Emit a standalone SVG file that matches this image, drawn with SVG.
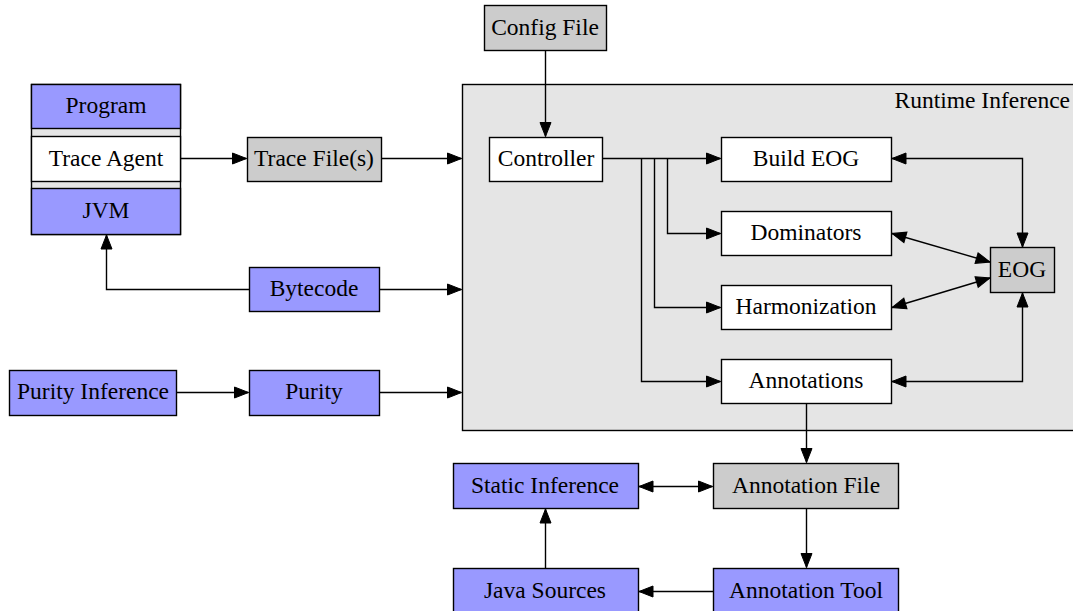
<svg xmlns="http://www.w3.org/2000/svg" width="1073" height="611" viewBox="0 0 1073 611">
<style>
.b{fill:#9999ff;stroke:#000;stroke-width:1.4}
.g{fill:#cccccc;stroke:#000;stroke-width:1.4}
.w{fill:#ffffff;stroke:#000;stroke-width:1.4}
.e{fill:none;stroke:#000;stroke-width:1.4}
</style>
<defs>
<marker id="a" markerUnits="userSpaceOnUse" markerWidth="16" markerHeight="14" refX="15" refY="7" orient="auto-start-reverse" viewBox="0 0 16 14">
<path d="M1,1.5 L15,7 L1,12.5 Z" fill="#000" stroke="#000" stroke-width="1"/>
</marker>
</defs>
<g id="cluster">
<rect x="462.5" y="84.5" width="620" height="346" fill="#e5e5e5" stroke="#000" stroke-width="1.4"/>
<text x="1070" y="108" font-family="Liberation Serif" font-size="23.5" text-anchor="end">Runtime Inference</text>
</g>
<g id="stack">
<rect x="31.5" y="84.5" width="149" height="150" fill="#e5e5e5" stroke="#000" stroke-width="1.4"/>
<g id="program"><rect class="b" x="31.5" y="84.5" width="149" height="44"/><text x="106" y="113" font-family="Liberation Serif" font-size="23.5" text-anchor="middle">Program</text></g>
<g id="traceagent"><rect class="w" x="31.5" y="136.5" width="149" height="45"/><text x="106" y="166" font-family="Liberation Serif" font-size="23.5" text-anchor="middle">Trace Agent</text></g>
<g id="jvm"><rect class="b" x="31.5" y="188.5" width="149" height="46"/><text x="106" y="218" font-family="Liberation Serif" font-size="23.5" text-anchor="middle">JVM</text></g>
</g>
<g id="tracefile"><rect class="g" x="247.5" y="137.5" width="134" height="44"/><text x="314" y="166" font-family="Liberation Serif" font-size="23.5" text-anchor="middle">Trace File(s)</text></g>
<g id="configfile"><rect class="g" x="484.5" y="5.5" width="122" height="45"/><text x="545" y="35" font-family="Liberation Serif" font-size="23.5" text-anchor="middle">Config File</text></g>
<g id="controller"><rect class="w" x="489.5" y="137.5" width="113" height="44"/><text x="546" y="166" font-family="Liberation Serif" font-size="23.5" text-anchor="middle">Controller</text></g>
<g id="buildeog"><rect class="w" x="721.5" y="137.5" width="170" height="44"/><text x="806" y="166" font-family="Liberation Serif" font-size="23.5" text-anchor="middle">Build EOG</text></g>
<g id="dominators"><rect class="w" x="721.5" y="211.5" width="170" height="44"/><text x="806" y="240" font-family="Liberation Serif" font-size="23.5" text-anchor="middle">Dominators</text></g>
<g id="harmonization"><rect class="w" x="721.5" y="285.5" width="170" height="44"/><text x="806" y="314" font-family="Liberation Serif" font-size="23.5" text-anchor="middle">Harmonization</text></g>
<g id="annotations"><rect class="w" x="721.5" y="359.5" width="170" height="44"/><text x="806" y="388" font-family="Liberation Serif" font-size="23.5" text-anchor="middle">Annotations</text></g>
<g id="eog"><rect class="g" x="990.5" y="247.5" width="64" height="45"/><text x="1022" y="277" font-family="Liberation Serif" font-size="23.5" text-anchor="middle">EOG</text></g>
<g id="bytecode"><rect class="b" x="249.5" y="267.5" width="130" height="44"/><text x="314" y="296" font-family="Liberation Serif" font-size="23.5" text-anchor="middle">Bytecode</text></g>
<g id="purityinference"><rect class="b" x="9.5" y="370.5" width="167" height="45"/><text x="93" y="399" font-family="Liberation Serif" font-size="23.5" text-anchor="middle">Purity Inference</text></g>
<g id="purity"><rect class="b" x="249.5" y="370.5" width="130" height="45"/><text x="314" y="399" font-family="Liberation Serif" font-size="23.5" text-anchor="middle">Purity</text></g>
<g id="annotationfile"><rect class="g" x="713.5" y="463.5" width="185" height="45"/><text x="806" y="493" font-family="Liberation Serif" font-size="23.5" text-anchor="middle">Annotation File</text></g>
<g id="staticinference"><rect class="b" x="453.5" y="463.5" width="185" height="45"/><text x="545" y="493" font-family="Liberation Serif" font-size="23.5" text-anchor="middle">Static Inference</text></g>
<g id="javasources"><rect class="b" x="453.5" y="568.5" width="185" height="45"/><text x="545" y="598" font-family="Liberation Serif" font-size="23.5" text-anchor="middle">Java Sources</text></g>
<g id="annotationtool"><rect class="b" x="713.5" y="568.5" width="185" height="45"/><text x="806" y="598" font-family="Liberation Serif" font-size="23.5" text-anchor="middle">Annotation Tool</text></g>
<g id="connectors">
<path class="e" d="M180.5,158.5 H246.5" marker-end="url(#a)"/>
<path class="e" d="M381.5,158.5 H461.5" marker-end="url(#a)"/>
<path class="e" d="M545.5,50.5 V136.5" marker-end="url(#a)"/>
<path class="e" d="M602.5,158.5 H720.5" marker-end="url(#a)"/>
<path class="e" d="M667.5,158.5 V233.5 H720.5" marker-end="url(#a)"/>
<path class="e" d="M654.5,158.5 V307.5 H720.5" marker-end="url(#a)"/>
<path class="e" d="M641.5,158.5 V381.5 H720.5" marker-end="url(#a)"/>
<path class="e" d="M892,158.5 H1022.5 V247" marker-start="url(#a)" marker-end="url(#a)"/>
<path class="e" d="M892,233.5 L990,262" marker-start="url(#a)" marker-end="url(#a)"/>
<path class="e" d="M892,307.5 L990,278" marker-start="url(#a)" marker-end="url(#a)"/>
<path class="e" d="M892,381.5 H1022.5 V293" marker-start="url(#a)" marker-end="url(#a)"/>
<path class="e" d="M379.5,289.5 H461.5" marker-end="url(#a)"/>
<path class="e" d="M249.5,289.5 H106.5 V235" marker-end="url(#a)"/>
<path class="e" d="M176.5,392.5 H248.5" marker-end="url(#a)"/>
<path class="e" d="M379.5,392.5 H461.5" marker-end="url(#a)"/>
<path class="e" d="M806.5,403.5 V462.5" marker-end="url(#a)"/>
<path class="e" d="M639,486.5 H712.5" marker-start="url(#a)" marker-end="url(#a)"/>
<path class="e" d="M806.5,508.5 V567.5" marker-end="url(#a)"/>
<path class="e" d="M713.5,591.5 H639" marker-end="url(#a)"/>
<path class="e" d="M545.5,568.5 V509" marker-end="url(#a)"/>
</g>
</svg>
